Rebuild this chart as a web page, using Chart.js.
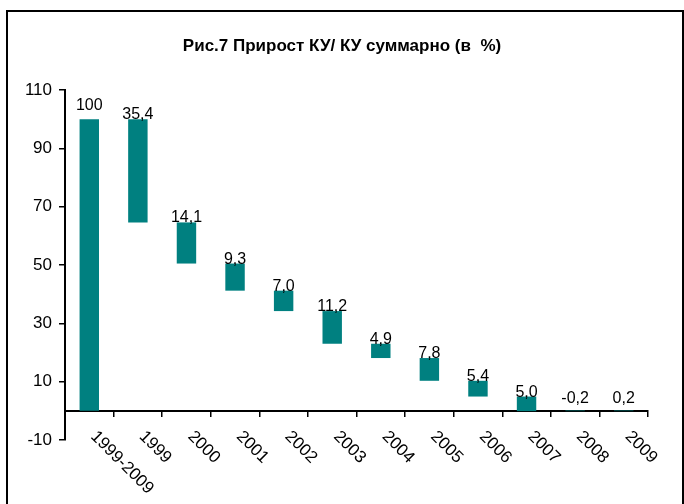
<!DOCTYPE html>
<html>
<head>
<meta charset="utf-8">
<script src="https://cdn.jsdelivr.net/npm/chart.js@4.4.1/dist/chart.umd.min.js"></script>
<style>
  html, body { margin: 0; padding: 0; background: #fff; }
  #wrap { width: 684px; height: 504px; }
</style>
</head>
<body>
<div id="wrap"><canvas id="kuChart"></canvas></div>
<script>
// categories and growth (in %)
const years = ['1999-2009', '1999', '2000', '2001', '2002', '2003', '2004', '2005', '2006', '2007', '2008', '2009'];
const growth = [100, 35.4, 14.1, 9.3, 7.0, 11.2, 4.9, 7.8, 5.4, 5.0, -0.2, 0.2];
const yTicks = [-10, 10, 30, 50, 70, 90, 110];

// waterfall: first bar is the total, the rest step down from it
function buildFloating(values) {
    var out = [[0, values[0]]];
    var level = values[0];
    for (var i = 1; i < values.length; i++) {
        out.push([level - values[i], level]);
        level = level - values[i];
    }
    return out;
}

function fmt(v, i) {
    if (i === 0) return String(v);
    return v.toFixed(1).replace('.', ',');
}

const FONT = '"Liberation Sans", Arial, sans-serif';

const framePlugin = {
    id: 'frame',
    beforeDraw: function(chart) {
        var ctx = chart.ctx;
        ctx.save();
        ctx.fillStyle = '#fff';
        ctx.fillRect(0, 0, chart.width, chart.height);
        ctx.strokeStyle = '#000';
        ctx.lineWidth = 2;
        ctx.strokeRect(7, 11, 676, 520);
        ctx.restore();
    }
};

const labelsPlugin = {
    id: 'waterfallLabels',
    afterDatasetsDraw: function(chart) {
        var ctx = chart.ctx;
        var meta = chart.getDatasetMeta(0);
        ctx.save();
        ctx.fillStyle = '#000';
        ctx.font = '16px ' + FONT;
        ctx.textAlign = 'center';
        ctx.textBaseline = 'alphabetic';
        meta.data.forEach(function(bar, i) {
            var top = Math.min(bar.y, bar.base);
            var lift = i === 0 ? 9 : (i >= 10 ? 8 : 0);
            ctx.fillText(fmt(growth[i], i), bar.x, top - lift);
        });
        ctx.restore();
    },
    afterDraw: function(chart) {
        // slanted category labels, going down to the right
        var ctx = chart.ctx;
        var x = chart.scales.x;
        var y0 = chart.scales.y.getPixelForValue(0);
        ctx.save();
        ctx.fillStyle = '#000';
        ctx.font = '17px ' + FONT;
        ctx.textAlign = 'left';
        ctx.textBaseline = 'top';
        years.forEach(function(lbl, i) {
            ctx.save();
            ctx.translate(x.getPixelForValue(i) + 10, y0 + 17);
            ctx.rotate(Math.PI / 4);
            ctx.fillText(lbl, 0, 0);
            ctx.restore();
        });
        ctx.restore();
    }
};

var ctx = document.getElementById('kuChart').getContext('2d');
var kuChart = new Chart(ctx, {
    type: 'bar',
    data: {
        labels: years,
        datasets: [{
            label: 'КУ',
            data: buildFloating(growth),
            backgroundColor: '#008080',
            borderWidth: 0,
            barPercentage: 0.4,
            categoryPercentage: 1.0
        }]
    },
    options: {
        responsive: true,
        maintainAspectRatio: false,
        animation: false,
        layout: {
            padding: { left: 0, right: 0, top: 0, bottom: 64 }
        },
        plugins: {
            legend: { display: false },
            tooltip: { enabled: false },
            title: {
                display: true,
                text: 'Рис.7 Прирост КУ/ КУ суммарно (в  %)',
                color: '#000',
                font: { family: FONT, size: 17, weight: 'bold' },
                padding: { top: 36.5, bottom: 33.1 }
            }
        },
        scales: {
            x: {
                position: { y: 0 },
                grid: {
                    offset: true,
                    drawOnChartArea: false,
                    drawTicks: true,
                    tickLength: 5,
                    lineWidth: 1.5,
                    color: '#000'
                },
                border: { color: '#000', width: 2 },
                ticks: { display: false }
            },
            y: {
                min: -10,
                max: 110,
                afterFit: function(scale) { scale.width = 65; },
                afterBuildTicks: function(scale) {
                    scale.ticks = yTicks.map(function(v) { return { value: v }; });
                },
                grid: {
                    drawOnChartArea: false,
                    drawTicks: true,
                    tickLength: 6,
                    lineWidth: 1.5,
                    color: '#000'
                },
                border: { color: '#000', width: 2 },
                ticks: {
                    color: '#000',
                    padding: 7,
                    font: { family: FONT, size: 17 }
                }
            },
            // empty right-hand axis, only keeps the margin so the title stays centred
            yRight: {
                position: 'right',
                min: -10,
                max: 110,
                afterFit: function(scale) { scale.width = 36; },
                grid: { display: false },
                border: { display: false },
                ticks: { display: false }
            }
        }
    },
    plugins: [framePlugin, labelsPlugin]
});
</script>
</body>
</html>
